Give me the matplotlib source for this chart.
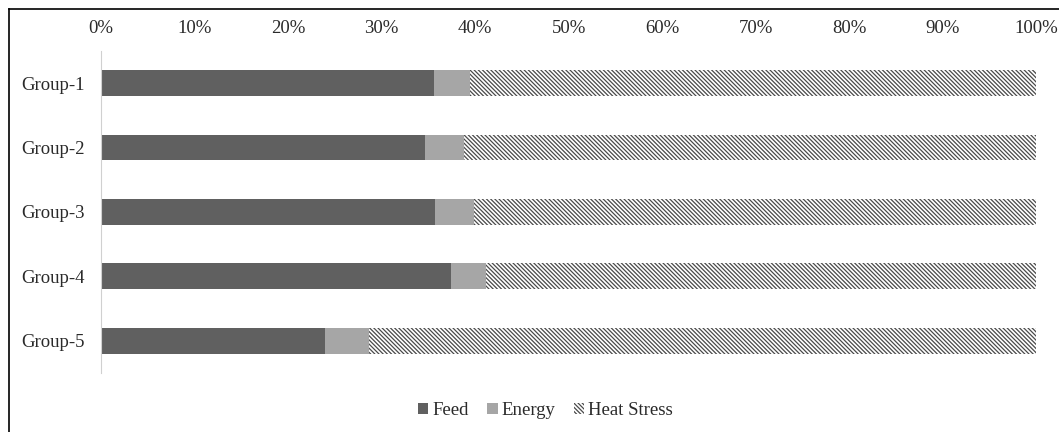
import matplotlib.pyplot as plt
from matplotlib.lines import Line2D

groups = ['Group-1', 'Group-2', 'Group-3', 'Group-4', 'Group-5']
feed = [35.6, 34.6, 35.7, 37.4, 23.9]
energy = [3.9, 4.2, 4.2, 3.8, 4.8]
heat_stress = [100 - f - e for f, e in zip(feed, energy)]

plt.rcParams['font.family'] = 'Liberation Serif'
plt.rcParams['hatch.linewidth'] = 0.9

fig = plt.figure(figsize=(10.59, 4.32), dpi=100)
ax = fig.add_axes([0.0954, 0.137, 0.883, 0.745])

y = range(len(groups))
h = 0.4
left_e = feed
left_h = [f + e for f, e in zip(feed, energy)]
ax.barh(y, feed, height=h, color='#606060', label='Feed')
ax.barh(y, energy, left=left_e, height=h, color='#a6a6a6', label='Energy')
ax.barh(y, heat_stress, left=left_h, height=h, color='white',
        edgecolor='#4a4a4a', linewidth=0, hatch='\\' * 8, label='Heat Stress')

ax.set_xlim(0, 100)
ax.set_ylim(4.5, -0.5)
ax.set_yticks(list(y))
ax.set_yticklabels(groups)
ax.set_xticks(range(0, 101, 10))
ax.set_xticklabels([f'{v}%' for v in range(0, 101, 10)])
ax.xaxis.tick_top()
ax.tick_params(axis='both', length=0, labelsize=13.5, colors='#2a2a2a')
ax.tick_params(axis='x', pad=10)
ax.tick_params(axis='y', pad=12)
for s in ['top', 'right', 'bottom']:
    ax.spines[s].set_visible(False)
ax.spines['left'].set_color('#d0d0d0')

fig.legend(loc='center', bbox_to_anchor=(0.515, 0.049), ncol=3, frameon=False,
           fontsize=13.5, handlelength=0.55, handleheight=0.55, handletextpad=0.2,
           columnspacing=1.0, labelcolor='#2a2a2a')

# frame lines along the top and left edge
fig.add_artist(Line2D([0.0085, 0.0085], [0, 0.979], color='black', lw=1.2))
fig.add_artist(Line2D([0.0085, 1], [0.979, 0.979], color='black', lw=1.2))

fig.savefig('out.png', dpi=100)
